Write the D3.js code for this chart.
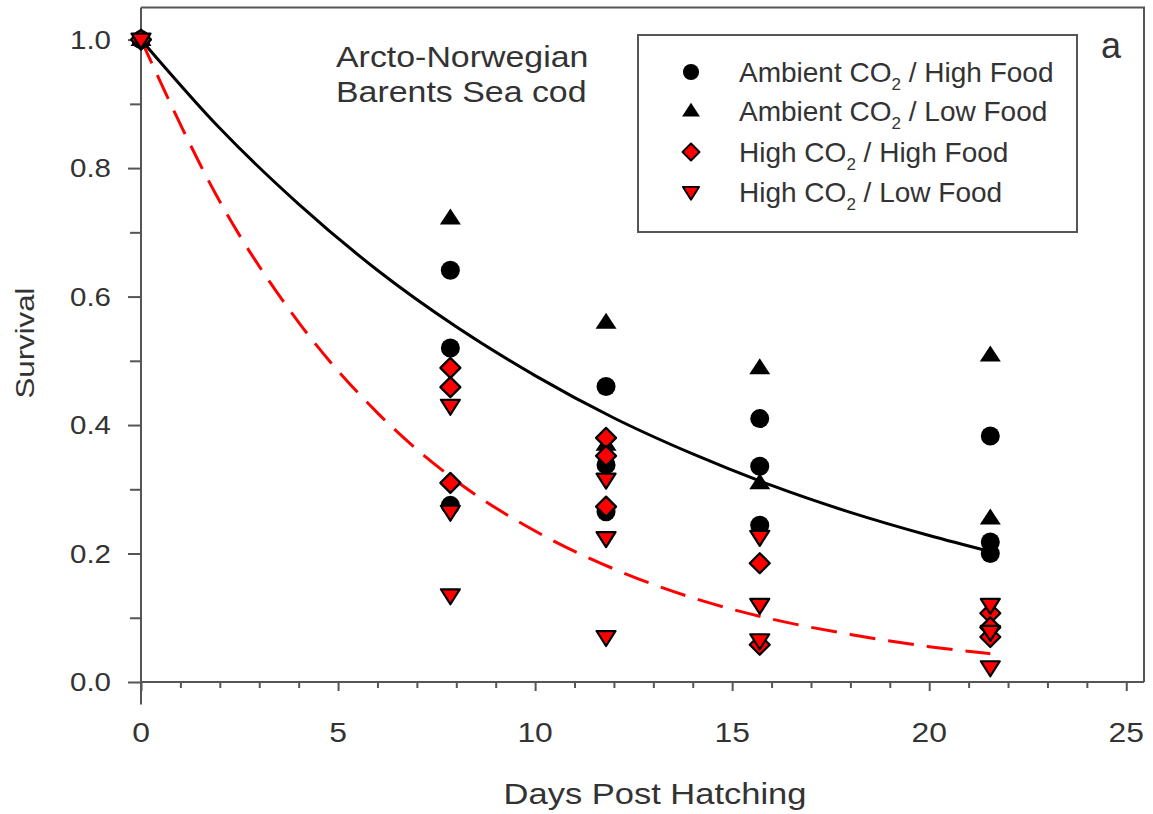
<!DOCTYPE html>
<html>
<head>
<meta charset="utf-8">
<script src="https://cdn.jsdelivr.net/npm/d3@7"></script>
<style>
  html, body { margin: 0; padding: 0; background: #fff; }
  svg { display: block; font-family: "Liberation Sans", Arial, sans-serif; }
</style>
</head>
<body>
<svg id="chart" width="1153" height="814"></svg>
<script>
// Survival of cod larvae by treatment: [day post hatching, survival fraction]
const ambientHighFood = [[0,1],[7.85,0.641],[7.85,0.52],[7.85,0.275],[11.8,0.46],[11.8,0.338],[11.8,0.265],
  [15.7,0.41],[15.7,0.336],[15.7,0.244],[21.55,0.383],[21.55,0.218],[21.55,0.2]];
const ambientLowFood = [[0,1],[7.85,0.722],[11.8,0.56],[11.8,0.37],[15.7,0.489],[15.7,0.31],[21.55,0.509],[21.55,0.255]];
const highHighFood = [[0,1],[7.85,0.489],[7.85,0.459],[7.85,0.31],[11.8,0.38],[11.8,0.352],[11.8,0.273],
  [15.7,0.185],[15.7,0.058],[21.55,0.107],[21.55,0.085],[21.55,0.07]];
const highLowFood = [[0,1],[7.85,0.43],[7.85,0.265],[7.85,0.135],[11.8,0.315],[11.8,0.224],[11.8,0.07],
  [15.7,0.226],[15.7,0.12],[15.7,0.065],[21.55,0.12],[21.55,0.078],[21.55,0.023]];

// Fitted survival curves (ambient CO2 solid, high CO2 dashed)
const curveDays = [0, 2, 4, 6, 8, 10, 12, 14, 16, 18, 20, 21.55];
const ambientFit = [1.0, 0.862, 0.744, 0.641, 0.553, 0.477, 0.411, 0.355, 0.306, 0.264, 0.228, 0.203];
const highCO2Fit = [1.0, 0.748, 0.560, 0.419, 0.313, 0.235, 0.176, 0.131, 0.098, 0.074, 0.055, 0.044];

const xTicks = [0, 5, 10, 15, 20, 25];
const yTicks = [0, 0.2, 0.4, 0.6, 0.8, 1.0];
const legendLabels = [
  ["Ambient CO", " / High Food"],
  ["Ambient CO", " / Low Food"],
  ["High CO", " / High Food"],
  ["High CO", " / Low Food"]
];

const svg = d3.select("#chart");
const x = d3.scaleLinear().domain([0, 25.45]).range([141, 1144]);
const y = d3.scaleLinear().domain([0, 1.05]).range([682, 7.5]);

const axisColor = "#555";
const textColor = "#333";

// text placed at (px, py), optionally rotated, and widened horizontally by sx
function label(parent, str, px, py, size, sx, anchor, rot) {
  return parent.append("g")
    .attr("transform", `translate(${px},${py}) rotate(${rot || 0}) scale(${sx},1)`)
    .append("text").attr("text-anchor", anchor).attr("font-size", size).attr("fill", textColor).text(str);
}

// frame: top and right borders
svg.append("path")
  .attr("d", `M${x(0)},${y(1.05)}H${x(25.45)}V${y(0)}`)
  .attr("fill", "none").attr("stroke", axisColor).attr("stroke-width", 2);

// X axis ticks
const xAxis = svg.append("g").attr("transform", `translate(0,${y(0)})`)
  .call(d3.axisBottom(x).tickValues(xTicks).tickSize(9).tickFormat(""));
xAxis.select(".domain").remove();
xAxis.selectAll(".tick line").attr("stroke", axisColor).attr("stroke-width", 2);
const xMinor = svg.append("g").attr("transform", `translate(0,${y(0)})`)
  .call(d3.axisBottom(x).tickValues(d3.range(1, 26).filter(d => d % 5 !== 0)).tickSize(6).tickFormat(""));
xMinor.select(".domain").remove();
xMinor.selectAll(".tick line").attr("stroke", axisColor).attr("stroke-width", 2);
svg.append("line").attr("x1", x(0)).attr("x2", x(25.45)).attr("y1", y(0)).attr("y2", y(0))
  .attr("stroke", axisColor).attr("stroke-width", 2);
xTicks.forEach(t => label(svg, d3.format("d")(t), x(t), 742, 27, 1.18, "middle"));

// Y axis ticks
const yAxis = svg.append("g").attr("transform", `translate(${x(0)},0)`)
  .call(d3.axisLeft(y).tickValues(yTicks).tickSize(13).tickFormat(""));
yAxis.select(".domain").remove();
yAxis.selectAll(".tick line").attr("stroke", axisColor).attr("stroke-width", 2);
const yMinor = svg.append("g").attr("transform", `translate(${x(0)},0)`)
  .call(d3.axisLeft(y).tickValues([0.1, 0.3, 0.5, 0.7, 0.9]).tickSize(11).tickFormat(""));
yMinor.select(".domain").remove();
yMinor.selectAll(".tick line").attr("stroke", axisColor).attr("stroke-width", 2);
svg.append("line").attr("x1", x(0)).attr("x2", x(0)).attr("y1", y(1.05)).attr("y2", y(-0.035))
  .attr("stroke", axisColor).attr("stroke-width", 2);
yTicks.forEach(t => label(svg, d3.format(".1f")(t), 111, y(t) + 9, 25, 1.18, "end"));

// axis titles
label(svg, "Days Post Hatching", 655, 804, 30, 1.15, "middle");
label(svg, "Survival", 34, 343, 26, 1.2, "middle", -90);

// fitted curves
const line = d3.line().x(d => x(d[0])).y(d => y(d[1])).curve(d3.curveMonotoneX);
svg.append("path").datum(curveDays.map((d, i) => [d, ambientFit[i]]))
  .attr("d", line).attr("fill", "none").attr("stroke", "#000").attr("stroke-width", 3);
svg.append("path").datum(curveDays.map((d, i) => [d, highCO2Fit[i]]))
  .attr("d", line).attr("fill", "none").attr("stroke", "#ff0000").attr("stroke-width", 3)
  .attr("stroke-dasharray", "26,13");

// marker shapes
function drawMarker(g, kind, cx, cy, s) {
  if (kind === "circle") {
    g.append("circle").attr("cx", cx).attr("cy", cy).attr("r", 9.5 * s).attr("fill", "#000");
  } else if (kind === "triUp") {
    const w = 10.5 * s, h = 16 * s;
    g.append("path").attr("d", `M${cx},${cy - h * 0.6}L${cx + w},${cy + h * 0.4}L${cx - w},${cy + h * 0.4}Z`)
      .attr("fill", "#000");
  } else if (kind === "diamond") {
    const r = 10 * s;
    g.append("path").attr("d", `M${cx},${cy - r}L${cx + r},${cy}L${cx},${cy + r}L${cx - r},${cy}Z`)
      .attr("fill", "#ff0000").attr("stroke", "#000").attr("stroke-width", 2.2 * s).attr("stroke-linejoin", "round");
  } else {
    const w = 9.5 * s, h = 15 * s;
    g.append("path").attr("d", `M${cx - w},${cy - h * 0.4}L${cx + w},${cy - h * 0.4}L${cx},${cy + h * 0.6}Z`)
      .attr("fill", "#ff0000").attr("stroke", "#000").attr("stroke-width", 2.2 * s).attr("stroke-linejoin", "round");
  }
}

const series = [
  { data: ambientHighFood, kind: "circle" },
  { data: ambientLowFood, kind: "triUp" },
  { data: highHighFood, kind: "diamond" },
  { data: highLowFood, kind: "triDown" }
];
const pts = svg.append("g");
series.forEach(s => s.data.forEach(d => drawMarker(pts, s.kind, x(d[0]), y(d[1]), 1)));

// annotation
label(svg, "Arcto-Norwegian", 336, 67, 30, 1.13, "start");
label(svg, "Barents Sea cod", 336, 102, 30, 1.13, "start");

label(svg, "a", 1101, 58, 36, 1, "start");

// legend
const lg = svg.append("g");
lg.append("rect").attr("x", 638).attr("y", 35).attr("width", 439).attr("height", 197)
  .attr("fill", "#fff").attr("stroke", axisColor).attr("stroke-width", 2);
const rowY = [72, 111, 152, 192];
series.forEach((s, i) => {
  drawMarker(lg, s.kind, 691, rowY[i], 0.85);
  const t = lg.append("text").attr("x", 739).attr("y", rowY[i] + 10).attr("font-size", 28).attr("fill", textColor);
  t.append("tspan").text(legendLabels[i][0]);
  t.append("tspan").attr("font-size", 17).attr("dy", 8).text("2");
  t.append("tspan").attr("dy", -8).text(legendLabels[i][1]);
});
</script>
</body>
</html>
